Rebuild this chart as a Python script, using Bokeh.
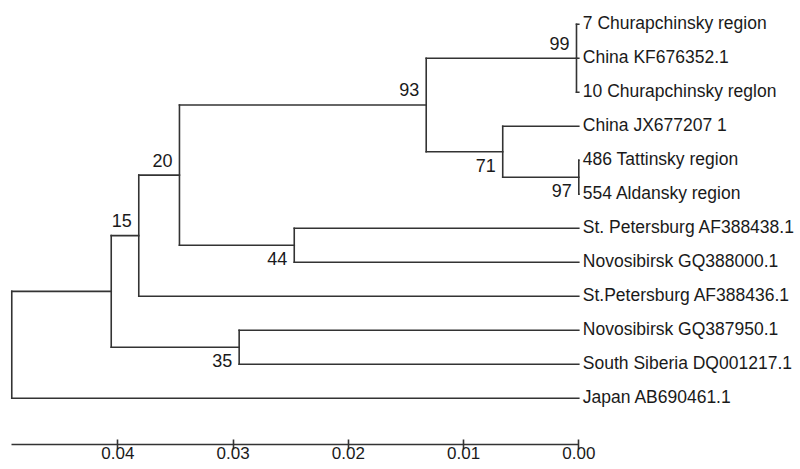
from bokeh.plotting import figure
from bokeh.models import Range1d, LinearAxis, FixedTicker, PrintfTickFormatter, ColumnDataSource
from bokeh.core.properties import value
from bokeh.embed import file_html
from bokeh.resources import INLINE

# ---- data -------------------------------------------------------------
leaf_names = [
    "7 Churapchinsky region",
    "China KF676352.1",
    "10 Churapchinsky reglon",
    "China JX677207 1",
    "486 Tattinsky region",
    "554 Aldansky region",
    "St. Petersburg AF388438.1",
    "Novosibirsk GQ388000.1",
    "St.Petersburg AF388436.1",
    "Novosibirsk GQ387950.1",
    "South Siberia DQ001217.1",
    "Japan AB690461.1",
]
leaf_heights = [0.0] * 12

node_names = ["n99", "n97", "n71", "n93", "n44", "n20", "n15", "n35", "nP", "root"]
node_children = [
    [0, 1, 2],
    [4, 5],
    [3, "n97"],
    ["n99", "n71"],
    [6, 7],
    ["n93", "n44"],
    ["n20", 8],
    [9, 10],
    ["n15", "n35"],
    ["nP", 11],
]
node_heights = [0.0002, 0.0, 0.0066, 0.01324, 0.02469, 0.03465, 0.03818, 0.02947, 0.04057, 0.04920]
node_support = [99, 97, 71, 93, 44, 20, 15, 35, None, None]
node_label_side = ["above", "below", "below", "above", "below", "above", "above", "below", None, None]

scale_ticks = [0.0, 0.01, 0.02, 0.03, 0.04]

# ---- layout -----------------------------------------------------------
W, H = 800, 469
BOTTOM = 25
frame_h = H - BOTTOM
px_leaf = 34.0
top_pad = 23.7
px_unit = 11525.0
tip_px = 578.3
BASE_FIX = -6  # correction for baseline placement of svg text

line_col = "#333333"
text_col = "#1a1a1a"
FONT = "Liberation Sans"

# ---- compute tree coordinates ----------------------------------------
pos = {}
for i, h in enumerate(leaf_heights):
    pos[i] = (h, float(i))

for name, ch, h in zip(node_names, node_children, node_heights):
    ys = [pos[c][1] for c in ch]
    pos[name] = (h, (min(ys) + max(ys)) / 2.0)

x0, y0, x1, y1 = [], [], [], []
for name, ch, h in zip(node_names, node_children, node_heights):
    ys = [pos[c][1] for c in ch]
    x0.append(h); x1.append(h); y0.append(min(ys)); y1.append(max(ys))
    for c in ch:
        cx, cy = pos[c]
        x0.append(h); x1.append(cx); y0.append(cy); y1.append(cy)

p = figure(
    width=W, height=H,
    output_backend="svg", toolbar_location=None,
    x_range=Range1d(tip_px / px_unit, -(W - tip_px) / px_unit),
    y_range=Range1d((frame_h - top_pad) / px_leaf, -top_pad / px_leaf),
    x_axis_location=None, y_axis_location=None,
    min_border_left=0, min_border_right=0, min_border_top=0, min_border_bottom=BOTTOM,
)
p.grid.visible = False
p.outline_line_color = None
p.background_fill_color = "white"
p.border_fill_color = "white"

p.segment(x0=x0, y0=y0, x1=x1, y1=y1, line_color=line_col, line_width=1.6, line_cap="square")

# leaf labels
leaf_src = ColumnDataSource(dict(
    x=[pos[i][0] for i in range(len(leaf_names))],
    y=[pos[i][1] for i in range(len(leaf_names))],
    t=leaf_names,
))
p.text(x="x", y="y", text="t", source=leaf_src, x_offset=4, y_offset=5 + BASE_FIX,
       text_align="left", text_baseline="alphabetic",
       text_font=value(FONT), text_font_size="17.5px", text_color=text_col)

# bootstrap labels
bx, by, bt, boff = [], [], [], []
for name, s, side in zip(node_names, node_support, node_label_side):
    if s is None:
        continue
    bx.append(pos[name][0]); by.append(pos[name][1]); bt.append(str(s))
    boff.append((-9 if side == "above" else 19.5) + BASE_FIX)
bs_src = ColumnDataSource(dict(x=bx, y=by, t=bt, off=boff))
p.text(x="x", y="y", text="t", source=bs_src, x_offset=-7, y_offset="off",
       text_align="right", text_baseline="alphabetic",
       text_font=value(FONT), text_font_size="18px", text_color=text_col)

# scale axis
ax = LinearAxis(
    ticker=FixedTicker(ticks=scale_ticks, minor_ticks=[]),
    formatter=PrintfTickFormatter(format="%.2f"),
    bounds=(0.0, node_heights[-1]),
)
ax.axis_line_color = line_col
ax.axis_line_width = 1.6
ax.major_tick_line_color = line_col
ax.major_tick_line_width = 1.6
ax.major_tick_in = 5
ax.major_tick_out = 5
ax.minor_tick_line_color = None
ax.major_label_standoff = -3
ax.major_label_text_font = FONT
ax.major_label_text_font_size = "17px"
ax.major_label_text_color = text_col
p.add_layout(ax, "below")

open("out.html", "w").write(file_html(p, INLINE))
